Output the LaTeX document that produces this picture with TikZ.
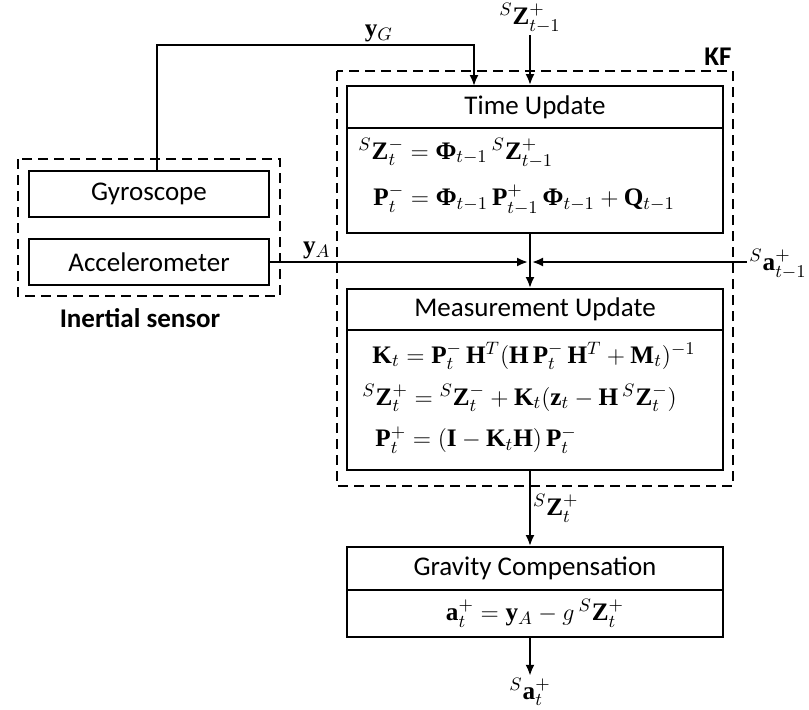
\documentclass[tikz,border=0pt]{standalone}
\usepackage{amsmath}
\usepackage{fontspec}
\setmainfont{Liberation Serif}
\newfontfamily\labelfont{Carlito}
\usetikzlibrary{arrows.meta}
\newcommand{\bPhi}{\text{\textbf{Φ}}}
\begin{document}
\begin{tikzpicture}[x=0.5pt,y=-0.5pt,
  box/.style={draw, line width=1pt, inner sep=0pt, font=\labelfont\fontsize{13.5}{16}\selectfont},
  eqn/.style={inner sep=0pt, font=\fontsize{12.6}{15}\selectfont},
  tag/.style={inner sep=1pt, font=\fontsize{12.6}{15}\selectfont},
  frame/.style={draw, dashed, line width=1.3pt, dash pattern=on 5pt off 3pt},
  flow/.style={line width=1pt, -{Latex[length=5.5pt,width=4.5pt]}}]
\useasboundingbox (0,0) rectangle (809,709);
\draw[frame] (18,159) rectangle (280,296);
\draw[frame] (337,71) rectangle (733,486);
\node[font=\labelfont\bfseries\fontsize{13.5}{16}\selectfont] (sensorlbl) at (140,318) {Inertial sensor};
\node[font=\labelfont\bfseries\fontsize{13.5}{16}\selectfont] (kflbl) at (718,57) {KF};
\node[box, minimum width=120pt, minimum height=23pt] (gyro) at (149,194) {Gyroscope};
\node[box, minimum width=120pt, minimum height=23pt] (accel) at (149,262) {Accelerometer};
\node[box, minimum width=188pt, minimum height=21pt] (tuhead) at (535,107) {Time Update};
\node[box, minimum width=188pt, minimum height=52.5pt] (tubody) at (535,180.5) {};
\node[box, minimum width=188pt, minimum height=20.5pt] (muhead) at (535,309.5) {Measurement Update};
\node[box, minimum width=188pt, minimum height=70pt] (mubody) at (535,400) {};
\node[box, minimum width=188pt, minimum height=21.5pt] (gchead) at (535,568.5) {Gravity Compensation};
\node[box, minimum width=188pt, minimum height=23.5pt] (gcbody) at (535,613.5) {};
\node[eqn, anchor=west] (eqa) at (358,153) {$^S\mathbf{Z}_t^- = \bPhi_{t-1}\,{}^S\mathbf{Z}_{t-1}^+$};
\node[eqn, anchor=west] (eqb) at (373,200) {$\mathbf{P}_t^- = \bPhi_{t-1}\,\mathbf{P}_{t-1}^+\,\bPhi_{t-1} + \mathbf{Q}_{t-1}$};
\node[eqn, anchor=west] (eqc) at (372,356) {$\mathbf{K}_t = \mathbf{P}_t^-\,\mathbf{H}^T(\mathbf{H}\,\mathbf{P}_t^-\,\mathbf{H}^T + \mathbf{M}_t)^{-1}$};
\node[eqn, anchor=west] (eqd) at (362,398) {$^S\mathbf{Z}_t^+ = {}^S\mathbf{Z}_t^- + \mathbf{K}_t(\mathbf{z}_t - \mathbf{H}\,{}^S\mathbf{Z}_t^-)$};
\node[eqn, anchor=west] (eqe) at (375,440) {$\mathbf{P}_t^+ = (\mathbf{I} - \mathbf{K}_t\mathbf{H})\,\mathbf{P}_t^-$};
\node[eqn] (eqf) at (535,613.5) {$\mathbf{a}_t^+ = \mathbf{y}_A - g\,{}^S\mathbf{Z}_t^+$};
\node[tag] (zin) at (530,18) {$^S\mathbf{Z}_{t-1}^+$};
\node[tag] (ain) at (778,264) {$^S\mathbf{a}_{t-1}^+$};
\node[tag] (aout) at (530,692) {$^S\mathbf{a}_t^+$};
\coordinate (ygcorner) at (157,45);
\coordinate (tuin) at (474,86);
\coordinate (jn) at (530,262);
\draw[flow] (gyro.north -| ygcorner) -- (ygcorner) -| node[tag, pos=0.35, above] {$\mathbf{y}_G$} (tuin);
\draw[flow] (zin) -- (zin |- tuhead.north);
\draw[line width=1pt] (tubody.south -| jn) -- (jn);
\draw[flow] (jn) -- (jn |- muhead.north);
\draw[flow, shorten >=1pt] (accel.east) -- node[tag, pos=0.18, above] {$\mathbf{y}_A$} (jn);
\draw[flow, shorten >=1pt] (ain.west |- jn) -- (jn);
\draw[flow] (mubody.south -| jn) -- node[tag, right, pos=0.5] {$^S\mathbf{Z}_t^+$} (gchead.north -| jn);
\draw[flow] (gcbody.south -| jn) -- (aout.north);
\end{tikzpicture}
\end{document}
